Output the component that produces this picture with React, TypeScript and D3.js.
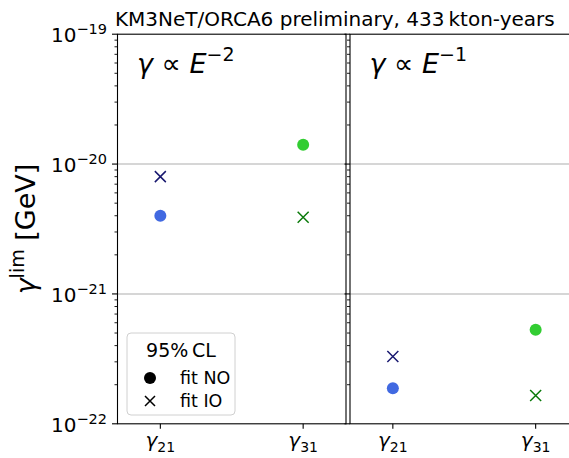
// Gamma limit chart, two panels (E^-2 and E^-1), drawn with D3
import React, { useEffect } from 'react';
import * as d3 from 'd3';

const categories = ['21', '31'];
const spectralIndex = ['−2', '−1'];
const fitNO_E2 = [4.0e-21, 1.41e-20];
const fitIO_E2 = [8.0e-21, 3.9e-21];
const fitNO_E1 = [1.88e-22, 5.3e-22];
const fitIO_E1 = [3.3e-22, 1.65e-22];
const decadeTicks = [1e-22, 1e-21, 1e-20, 1e-19];
const decadeLabels = ['−22', '−21', '−20', '−19'];

const noColors = ['#4169e1', '#32cd32'];
const ioColors = ['#191970', '#0a7a0a'];

const FONT = 'DejaVu Sans, sans-serif';

const App = () => {
  const svgRef = React.useRef<SVGSVGElement>(null);

  useEffect(() => {
    if (!svgRef.current) return;
    const svg = d3.select(svgRef.current);
    svg.selectAll('*').remove();

    const top = 34.2;
    const bottom = 423.8;
    const panelW = 228.5;
    const panelX = [117.5, 350];
    const noData = [fitNO_E2, fitNO_E1];
    const ioData = [fitIO_E2, fitIO_E1];

    const yScale = d3.scaleLog().domain([1e-22, 1e-19]).range([bottom, top]);
    const minorTicks: number[] = [];
    for (let e = -22; e < -19; e++) {
      for (let m = 2; m <= 9; m++) minorTicks.push(m * Math.pow(10, e));
    }

    panelX.forEach((x0, p) => {
      const xScale = d3.scaleLinear().domain([-0.3, 1.3]).range([x0, x0 + panelW]);
      const g = svg.append('g');

      // grid
      g.selectAll('.grid')
        .data([1e-21, 1e-20])
        .enter()
        .append('line')
        .attr('x1', x0)
        .attr('x2', x0 + panelW)
        .attr('y1', d => yScale(d))
        .attr('y2', d => yScale(d))
        .attr('stroke', '#c8c8c8')
        .attr('stroke-width', 1.5);

      // minor y ticks
      g.selectAll('.minor')
        .data(minorTicks)
        .enter()
        .append('line')
        .attr('x1', x0 - 3)
        .attr('x2', x0)
        .attr('y1', d => yScale(d))
        .attr('y2', d => yScale(d))
        .attr('stroke', '#000')
        .attr('stroke-width', 0.9);

      // major y ticks
      g.selectAll('.major')
        .data(decadeTicks)
        .enter()
        .append('line')
        .attr('x1', x0 - 5.5)
        .attr('x2', x0)
        .attr('y1', d => yScale(d))
        .attr('y2', d => yScale(d))
        .attr('stroke', '#000')
        .attr('stroke-width', 1.1);

      // x ticks
      categories.forEach((c, i) => {
        const cx = xScale(i);
        g.append('line')
          .attr('x1', cx).attr('x2', cx)
          .attr('y1', bottom).attr('y2', bottom + 5)
          .attr('stroke', '#000').attr('stroke-width', 1.1);
        const t = g.append('text')
          .attr('x', cx)
          .attr('y', 447)
          .attr('text-anchor', 'middle')
          .attr('font-size', 20)
          .attr('font-family', FONT);
        t.append('tspan').attr('font-style', 'italic').text('γ');
        t.append('tspan').attr('font-size', 14).attr('dy', 4.5).text(c);
      });

      // points
      categories.forEach((_, i) => {
        const cx = xScale(i);
        g.append('circle')
          .attr('cx', cx)
          .attr('cy', yScale(noData[p][i]))
          .attr('r', 6)
          .attr('fill', noColors[i]);
        const cy = yScale(ioData[p][i]);
        const s = 5.5;
        g.append('path')
          .attr('d', `M${cx - s},${cy - s}L${cx + s},${cy + s}M${cx - s},${cy + s}L${cx + s},${cy - s}`)
          .attr('stroke', ioColors[i])
          .attr('stroke-width', 1.5)
          .attr('fill', 'none');
      });

      // frame
      g.append('rect')
        .attr('x', x0)
        .attr('y', top)
        .attr('width', panelW)
        .attr('height', bottom - top)
        .attr('fill', 'none')
        .attr('stroke', '#000')
        .attr('stroke-width', 1.1);

      // panel label
      const lab = g.append('text')
        .attr('x', x0 + 19.5)
        .attr('y', 73)
        .attr('font-size', 27)
        .attr('font-family', FONT);
      lab.append('tspan').attr('font-style', 'italic').text('γ');
      lab.append('tspan').text(' ∝ ');
      lab.append('tspan').attr('font-style', 'italic').text('E');
      lab.append('tspan').attr('font-size', 19).attr('dy', -12).text(spectralIndex[p]);
    });

    // y tick labels
    decadeTicks.forEach((d, i) => {
      const t = svg.append('text')
        .attr('x', 107)
        .attr('y', yScale(d) + 8)
        .attr('text-anchor', 'end')
        .attr('font-size', 20)
        .attr('font-family', FONT);
      t.append('tspan').text('10');
      t.append('tspan').attr('font-size', 14.5).attr('dy', -8).text(decadeLabels[i]);
    });

    // y axis label
    const yl = svg.append('text')
      .attr('transform', `translate(35,${(top + bottom) / 2}) rotate(-90)`)
      .attr('text-anchor', 'middle')
      .attr('font-size', 27)
      .attr('font-family', FONT);
    yl.append('tspan').attr('font-style', 'italic').text('γ');
    yl.append('tspan').attr('font-size', 19).attr('dy', -11).text('lim');
    yl.append('tspan').attr('dy', 11).text(' [GeV]');

    // title
    svg.append('text')
      .attr('x', 115)
      .attr('y', 26)
      .attr('font-size', 20)
      .attr('font-family', FONT)
      .text('KM3NeT/ORCA6 preliminary, 433\u2009kton-years');

    // legend
    const lg = svg.append('g');
    lg.append('rect')
      .attr('x', 127).attr('y', 333)
      .attr('width', 108).attr('height', 82)
      .attr('rx', 4)
      .attr('fill', 'white').attr('fill-opacity', 0.8)
      .attr('stroke', '#d0d0d0');
    lg.append('text')
      .attr('x', 181).attr('y', 357)
      .attr('text-anchor', 'middle')
      .attr('font-size', 19).attr('font-family', FONT)
      .text('95%\u2009CL');
    lg.append('circle').attr('cx', 150).attr('cy', 378).attr('r', 6).attr('fill', '#000');
    lg.append('text')
      .attr('x', 180).attr('y', 384)
      .attr('font-size', 17.5).attr('font-family', FONT)
      .text('fit NO');
    const s = 5;
    lg.append('path')
      .attr('d', `M${150 - s},${401 - s}L${150 + s},${401 + s}M${150 - s},${401 + s}L${150 + s},${401 - s}`)
      .attr('stroke', '#000').attr('stroke-width', 1.5);
    lg.append('text')
      .attr('x', 180).attr('y', 407)
      .attr('font-size', 17.5).attr('font-family', FONT)
      .text('fit IO');
  }, []);

  return (
    <svg
      ref={svgRef}
      width={569}
      height={458}
      style={{ position: 'absolute', left: 0, top: 0, background: '#fff' }}
    />
  );
};

export default App;
